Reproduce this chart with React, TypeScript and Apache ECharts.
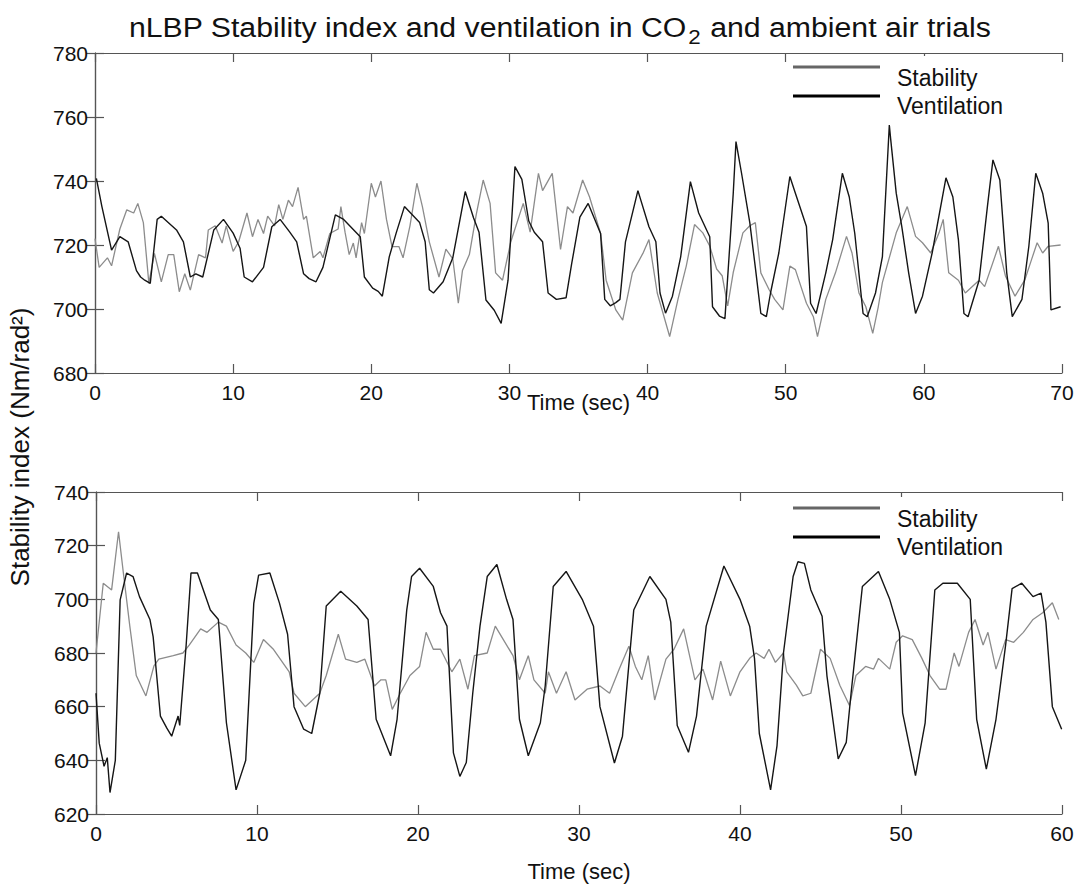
import React, { useEffect, useRef } from "react";
import * as echarts from "echarts";

// ---- Top panel (CO2 trial), time 0-70 s ----
const topStability: [number, number][] = [
  [0.0, 722], [0.3, 713], [0.6, 714.5], [0.9, 716], [1.2, 713.5], [1.8, 725], [2.3, 731], [2.8, 730],
  [3.1, 733], [3.5, 727], [3.9, 708], [4.3, 717.4], [4.8, 708.5], [5.3, 717], [5.7, 717], [6.1, 705.4],
  [6.5, 711], [6.9, 705.9], [7.5, 717], [8.0, 716], [8.2, 724.7], [8.7, 726], [9.2, 720.6], [9.5, 726],
  [10.0, 718], [10.4, 721], [11.0, 730], [11.4, 722.6], [11.8, 728], [12.2, 723.6], [12.5, 729], [13.0, 726],
  [13.3, 732.6], [13.6, 728], [14.0, 734], [14.3, 732], [14.7, 738], [15.1, 728], [15.3, 729], [15.8, 716],
  [16.3, 718], [16.5, 716], [17.0, 723.6], [17.6, 725], [17.8, 732], [18.1, 724], [18.4, 717], [18.7, 720.6],
  [18.9, 716], [19.3, 727], [19.5, 723.6], [20.0, 739.3], [20.3, 735], [20.7, 740], [21.1, 728], [21.5, 719.5],
  [22.0, 719.5], [22.3, 716], [22.8, 726], [23.3, 739.3], [23.7, 732], [24.2, 721], [24.9, 710], [25.4, 718.7],
  [25.9, 715.7], [26.3, 701.8], [26.6, 712], [27.1, 717], [27.6, 729.6], [28.1, 740.3], [28.6, 733], [29.0, 711.3],
  [29.5, 709], [30.1, 721], [31.0, 733], [31.5, 724], [32.1, 742.4], [32.4, 737], [33.1, 742.4], [33.7, 718.6],
  [34.2, 732], [34.6, 730], [35.3, 740.3], [35.8, 735], [36.6, 723.6], [37.0, 709], [37.7, 699.7], [38.2, 696.5],
  [38.9, 711.3], [39.7, 717.7], [40.1, 721.7], [40.7, 705], [41.6, 691.4], [42.2, 703], [42.8, 713.4], [43.4, 726.4],
  [44.0, 723.8], [44.5, 719.7], [45.0, 712.5], [45.4, 710.4], [45.8, 701], [46.2, 711.4], [46.9, 723.8], [47.4, 726],
  [47.8, 727], [48.2, 711.3], [48.8, 706], [49.2, 703], [49.8, 699.7], [50.3, 713.4], [50.7, 712.3], [51.5, 701.8],
  [52.0, 697.6], [52.3, 691.4], [52.9, 703], [53.6, 711.3], [54.4, 722.7], [54.8, 717.5], [55.3, 705], [55.8, 700.7],
  [56.3, 692.4], [56.7, 700.7], [57.0, 708.3], [58.0, 723.8], [58.8, 732], [59.4, 722.7], [59.9, 720.7], [60.5, 717.5],
  [61.1, 723.8], [61.4, 728], [61.8, 711.3], [62.5, 709], [63.0, 705], [64.0, 709], [64.4, 707], [65.4, 719.6],
  [65.9, 710.4], [66.6, 704], [67.3, 709], [67.8, 715.5], [68.2, 720.7], [68.6, 717.5], [69.0, 719.6], [69.9, 720],
];

const topVentilation: [number, number][] = [
  [0.1, 740.8], [0.5, 732], [1.2, 718.4], [1.8, 722.6], [2.4, 721], [3.0, 712], [3.3, 710], [3.6, 709], [4.0, 708],
  [4.5, 728], [4.8, 729], [5.9, 724.7], [6.4, 721], [6.9, 710], [7.3, 711], [7.8, 710], [8.6, 724.7], [9.3, 728],
  [10.0, 723.7], [10.5, 719], [10.8, 710], [11.4, 708.5], [12.2, 713], [12.8, 725.7], [13.4, 728], [14.1, 724],
  [14.6, 721], [15.1, 711], [15.5, 709.5], [16.0, 708.5], [16.5, 713], [17.4, 729.4], [18.0, 728], [19.2, 722.6],
  [19.5, 710], [20.1, 706.5], [20.5, 705.5], [20.8, 704], [21.3, 716.3], [21.8, 723.7], [22.4, 732], [23.5, 727],
  [23.9, 721], [24.2, 706], [24.5, 705], [25.2, 708.5], [25.9, 716], [26.8, 736.7], [27.4, 728.5], [27.8, 724],
  [28.3, 702.8], [28.9, 699.6], [29.4, 695.5], [29.9, 709], [30.4, 744.5], [30.9, 740.5], [31.4, 727.5], [31.8, 724],
  [32.4, 721], [32.8, 705], [33.4, 703], [34.1, 703.5], [34.5, 714], [35.1, 728.7], [35.7, 733], [36.6, 723.6],
  [36.9, 703], [37.3, 701], [37.7, 702], [38.0, 703], [38.4, 721], [39.3, 737], [40.1, 725.7], [40.6, 721],
  [40.9, 705], [41.3, 698.7], [41.8, 704], [42.4, 716.4], [43.1, 739.8], [43.7, 730], [44.5, 722.6], [44.7, 700.7],
  [45.2, 697.8], [45.6, 697], [46.2, 736], [46.4, 752.3], [46.8, 742.5], [47.4, 727], [47.8, 713], [48.2, 698.6],
  [48.6, 697.6], [48.9, 705], [49.5, 717.5], [50.3, 741.4], [50.7, 736.2], [51.5, 725.8], [51.8, 701.8], [52.2, 698.6],
  [52.9, 711.3], [53.4, 721.7], [54.1, 742.4], [54.6, 735], [55.0, 723.6], [55.6, 698.6], [55.9, 697.6], [56.5, 705],
  [57.0, 716.4], [57.5, 757.5], [57.6, 753], [58.0, 736.2], [58.4, 725.8], [58.9, 711.3], [59.4, 698.6], [59.9, 704],
  [60.6, 717.5], [61.6, 741], [62.1, 735], [62.5, 721.7], [62.9, 698.6], [63.2, 697.6], [64.0, 709], [64.6, 732],
  [65.0, 746.6], [65.5, 740.3], [66.0, 711.3], [66.4, 697.6], [67.1, 703], [67.6, 719.6], [68.1, 742.4], [68.6, 736.2],
  [69.0, 726.8], [69.2, 699.7], [69.9, 700.7],
];

// ---- Bottom panel (ambient air trial), time 0-60 s ----
const bottomStability: [number, number][] = [
  [0.0, 680], [0.45, 706], [0.97, 703.5], [1.4, 725.2], [1.7, 709.8], [2.1, 690], [2.5, 671.6], [3.1, 664],
  [3.6, 675.2], [3.9, 677.7], [4.8, 679], [5.4, 680], [5.8, 683], [6.5, 689], [6.9, 687.7], [7.6, 691.5],
  [8.1, 690], [8.7, 683], [9.3, 680], [9.8, 676.5], [10.4, 685], [11.0, 681.5], [12.0, 673], [12.3, 665],
  [13.0, 660], [13.9, 665], [14.3, 671.6], [15.05, 687], [15.5, 677.7], [16.2, 676.5], [16.7, 677.7], [17.3, 667.7],
  [17.7, 670], [18.0, 670], [18.4, 659], [18.9, 665], [19.5, 671.6], [20.1, 675], [20.5, 687.7], [20.95, 681.4],
  [21.4, 681.4], [22.1, 673], [22.6, 677.7], [23.1, 666.5], [23.5, 679], [24.3, 680], [24.8, 690], [25.3, 685],
  [25.9, 679], [26.3, 670], [26.85, 679], [27.2, 670], [27.9, 665], [28.1, 673], [28.6, 665], [29.2, 673],
  [29.75, 662.5], [30.5, 666.5], [31.3, 667.7], [31.9, 665], [32.5, 674], [33.1, 682.5], [33.5, 675], [33.9, 670],
  [34.3, 679], [34.7, 662.5], [35.4, 677.7], [35.9, 681.4], [36.5, 689], [37.2, 670], [37.7, 674], [38.3, 662.5],
  [38.8, 677], [39.4, 664], [40.0, 673], [40.6, 678], [41.0, 680], [41.5, 678], [41.8, 681.4], [42.2, 676.5],
  [42.7, 680], [42.9, 673], [43.5, 668], [43.9, 664], [44.4, 665], [45.0, 681.4], [45.6, 678], [46.2, 668],
  [46.8, 660.4], [47.2, 671.6], [47.8, 675], [48.3, 674], [48.6, 678], [49.3, 674], [49.7, 684], [50.1, 686.4],
  [50.7, 685], [51.3, 678], [51.8, 671.6], [52.4, 666.5], [52.8, 666.5], [53.3, 680], [53.6, 675], [54.2, 687.7],
  [54.6, 692.5], [55.1, 683], [55.4, 687.7], [55.9, 674], [56.5, 685], [57.0, 684], [57.6, 687.7], [58.2, 692.5],
  [58.8, 695], [59.4, 698.7], [59.8, 692.5],
];

const bottomVentilation: [number, number][] = [
  [0.0, 665], [0.2, 646.4], [0.5, 637.8], [0.7, 641], [0.87, 628], [1.2, 640], [1.5, 699.8], [1.9, 709.8],
  [2.3, 708.5], [2.7, 701], [3.35, 692.5], [3.55, 686], [4.0, 656.5], [4.4, 652], [4.7, 649], [5.1, 656.5],
  [5.2, 653], [5.6, 683], [5.9, 709.8], [6.3, 709.8], [7.1, 696], [7.6, 692.5], [8.1, 654], [8.7, 629],
  [9.3, 640], [9.8, 698.5], [10.1, 709], [10.8, 709.8], [11.4, 698.5], [11.9, 687], [12.3, 660], [12.9, 651.6],
  [13.4, 650], [13.9, 665], [14.3, 697.5], [15.2, 703], [16.2, 697.5], [16.9, 692.5], [17.4, 655.3], [18.3, 641.7],
  [18.7, 655.3], [19.3, 696], [19.6, 708.5], [20.1, 711.6], [20.95, 704.8], [21.4, 695], [21.8, 690], [22.2, 642.8],
  [22.6, 634], [23.0, 639.2], [23.4, 665], [23.85, 690], [24.3, 708.5], [24.9, 713], [25.5, 700], [25.9, 692.5],
  [26.3, 655.3], [26.85, 641.7], [27.6, 654], [27.9, 667.7], [28.4, 704.8], [29.2, 710.4], [30.2, 700], [30.9, 690],
  [31.3, 660], [32.2, 639], [32.7, 649], [33.4, 696], [34.4, 708.5], [35.4, 700], [35.7, 691.5], [36.1, 653],
  [36.8, 643], [37.3, 656.5], [37.9, 690], [39.0, 712.4], [40.0, 700], [40.6, 690], [40.9, 678], [41.2, 650],
  [41.9, 629], [42.3, 645.5], [42.7, 680], [43.3, 708.5], [43.6, 714], [44.0, 713.4], [44.4, 703.5], [45.1, 693.7],
  [45.4, 671.5], [46.1, 640.5], [46.6, 646.7], [46.9, 665], [47.6, 704.8], [48.6, 710.4], [49.3, 700], [49.9, 687.7],
  [50.1, 657.7], [50.9, 634.3], [51.5, 654], [52.1, 703.5], [52.6, 706], [53.5, 706], [54.3, 700], [54.7, 655.3],
  [55.3, 636.7], [55.9, 655.3], [56.5, 683], [56.9, 704], [57.5, 706], [58.2, 701], [58.7, 702.3], [59.0, 691.5],
  [59.4, 660], [59.98, 651.6],
];

const seriesNames = ["Stability", "Ventilation"];
const topXTicks = { min: 0, max: 70, interval: 10 };
const topYTicks = { min: 680, max: 780, interval: 20 };
const bottomXTicks = { min: 0, max: 60, interval: 10 };
const bottomYTicks = { min: 620, max: 740, interval: 20 };

const FONT = "Liberation Sans, Arial, Helvetica, sans-serif";
const AXIS_COLOR = "#555";
const STAB_COLOR = "#8c8c8c";
const VENT_COLOR = "#151515";

function App() {
  const ref = useRef<HTMLDivElement>(null);

  useEffect(() => {
    if (!ref.current) return;
    const chart = echarts.init(ref.current, undefined, { renderer: "svg" });

    const axisLine = { show: true, lineStyle: { color: AXIS_COLOR, width: 1.2 } };
    const tick = { show: true, inside: true, length: 9, lineStyle: { color: AXIS_COLOR, width: 1.2 } };
    const label = { color: "#111", fontSize: 21, fontFamily: FONT };

    const xAxisFor = (grid: number, t: any, withLabels: boolean, pos: string, nameGap: number) => ({
      type: "value",
      gridIndex: grid,
      position: pos,
      min: t.min,
      max: t.max,
      interval: t.interval,
      axisLine,
      axisTick: tick,
      axisLabel: withLabels ? { ...label, margin: 9 } : { show: false },
      splitLine: { show: false },
      name: withLabels ? "Time (sec)" : "",
      nameLocation: "middle",
      nameGap,
      nameMoveOverlap: false,
      nameTextStyle: { color: "#111", fontSize: 22, fontFamily: FONT },
    });
    const yAxisFor = (grid: number, t: any, withLabels: boolean, pos: string) => ({
      type: "value",
      gridIndex: grid,
      position: pos,
      min: t.min,
      max: t.max,
      interval: t.interval,
      axisLine,
      axisTick: tick,
      axisLabel: withLabels ? { ...label, margin: 7 } : { show: false },
      splitLine: { show: false },
    });

    const legendGraphic = (top: number) => [
      { type: "rect", shape: { x: 790, y: top, width: 258, height: 62 }, style: { fill: "#fff" }, z: 10 },
      { type: "line", shape: { x1: 793, y1: top + 11, x2: 880, y2: top + 11 }, style: { stroke: "#666", lineWidth: 3 }, z: 11 },
      { type: "line", shape: { x1: 793, y1: top + 40, x2: 880, y2: top + 40 }, style: { stroke: "#000", lineWidth: 3 }, z: 11 },
      { type: "text", x: 897, y: top + 22, style: { text: seriesNames[0], fill: "#111", fontSize: 23, fontFamily: FONT, verticalAlign: "middle" }, z: 11 },
      { type: "text", x: 897, y: top + 50, style: { text: seriesNames[1], fill: "#111", fontSize: 23, fontFamily: FONT, verticalAlign: "middle" }, z: 11 },
    ];

    const option: any = {
      animation: false,
      backgroundColor: "#fff",
      grid: [
        { left: 95, top: 53, width: 967, height: 320 },
        { left: 96, top: 492, width: 966, height: 322 },
      ],
      xAxis: [
        xAxisFor(0, topXTicks, true, "bottom", 18),
        xAxisFor(0, topXTicks, false, "top", 0),
        xAxisFor(1, bottomXTicks, true, "bottom", 46),
        xAxisFor(1, bottomXTicks, false, "top", 0),
      ],
      yAxis: [
        yAxisFor(0, topYTicks, true, "left"),
        yAxisFor(0, topYTicks, false, "right"),
        yAxisFor(1, bottomYTicks, true, "left"),
        yAxisFor(1, bottomYTicks, false, "right"),
      ],
      series: [
        { name: seriesNames[0], type: "line", xAxisIndex: 0, yAxisIndex: 0, data: topStability, showSymbol: false, lineStyle: { color: STAB_COLOR, width: 1.3 }, itemStyle: { color: STAB_COLOR } },
        { name: seriesNames[1], type: "line", xAxisIndex: 0, yAxisIndex: 0, data: topVentilation, showSymbol: false, lineStyle: { color: VENT_COLOR, width: 1.4 }, itemStyle: { color: VENT_COLOR } },
        { name: seriesNames[0], type: "line", xAxisIndex: 2, yAxisIndex: 2, data: bottomStability, showSymbol: false, lineStyle: { color: STAB_COLOR, width: 1.3 }, itemStyle: { color: STAB_COLOR } },
        { name: seriesNames[1], type: "line", xAxisIndex: 2, yAxisIndex: 2, data: bottomVentilation, showSymbol: false, lineStyle: { color: VENT_COLOR, width: 1.4 }, itemStyle: { color: VENT_COLOR } },
      ],
      graphic: [
        {
          type: "text",
          x: 129,
          y: 9,
          scaleX: 1.12,
          style: {
            text: "nLBP Stability index and ventilation in CO{sub|2} and ambient air trials",
            fill: "#111",
            fontSize: 27,
            fontFamily: FONT,
            rich: {
              sub: { fontSize: 20, fontFamily: FONT, fill: "#111", padding: [18, 1, 0, 1] },
            },
          },
        },
        ...legendGraphic(56),
        ...legendGraphic(497),
        {
          type: "text",
          x: 20,
          y: 447,
          rotation: Math.PI / 2,
          style: {
            text: "Stability index (Nm/rad²)",
            fill: "#111",
            fontSize: 26,
            fontFamily: FONT,
            align: "center",
            verticalAlign: "middle",
          },
        },
      ],
    };

    chart.setOption(option);
    return () => chart.dispose();
  }, []);

  return (
    <div
      ref={ref}
      style={{ position: "fixed", left: 0, top: 0, width: 1082, height: 894, background: "#fff" }}
    />
  );
}

export default App;
